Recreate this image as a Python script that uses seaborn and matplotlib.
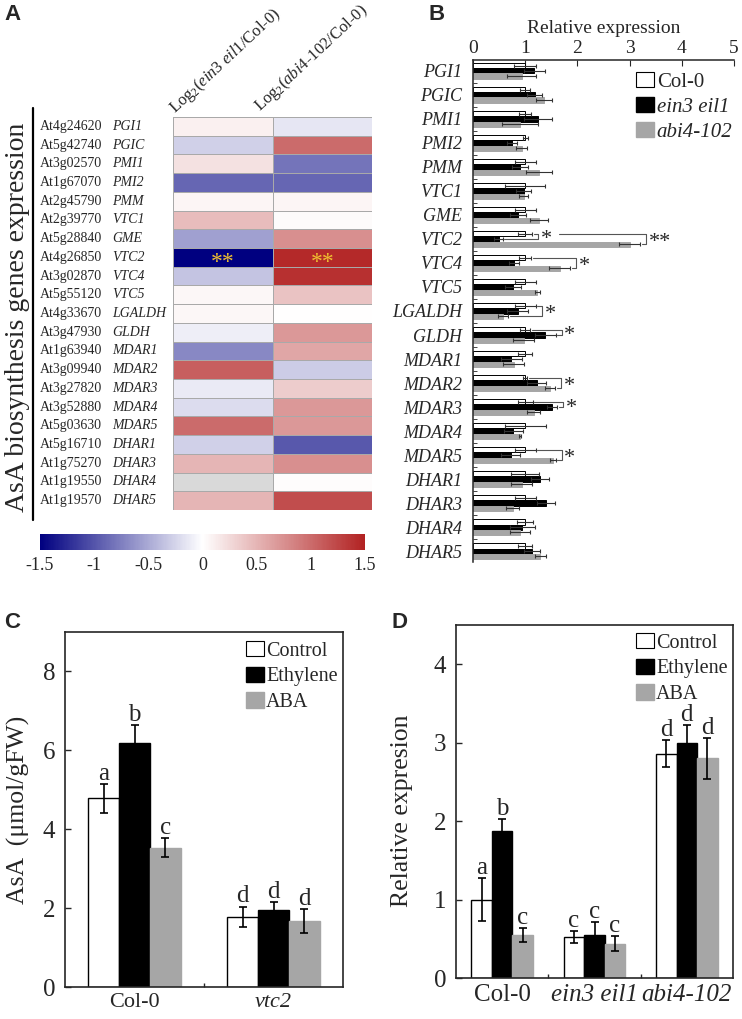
#!/usr/bin/env python3
"""
AsA biosynthesis gene expression figure (panels A-D).

A: log2 heatmap of mutant/Col-0 expression
B: relative expression of the same genes
C: AsA content after ethylene / ABA
D: VTC2 relative expression after ethylene / ABA
"""

import numpy as np
import pandas as pd
import matplotlib
matplotlib.use('Agg')
import matplotlib.pyplot as plt
from matplotlib.colors import LinearSegmentedColormap
from matplotlib.patches import Patch
import seaborn as sns

sns.set_style('ticks')
plt.rcParams['font.family'] = 'serif'
plt.rcParams['font.serif'] = ['Liberation Serif', 'DejaVu Serif']
plt.rcParams['mathtext.fontset'] = 'custom'
plt.rcParams['mathtext.rm'] = 'Liberation Serif'
plt.rcParams['mathtext.it'] = 'Liberation Serif:italic'

GRAY = '#a6a6a6'

# ---- Panel A data ----
gene_ids = ['At4g24620', 'At5g42740', 'At3g02570', 'At1g67070', 'At2g45790', 'At2g39770',
            'At5g28840', 'At4g26850', 'At3g02870', 'At5g55120', 'At4g33670', 'At3g47930',
            'At1g63940', 'At3g09940', 'At3g27820', 'At3g52880', 'At5g03630', 'At5g16710',
            'At1g75270', 'At1g19550', 'At1g19570']
gene_names = ['PGI1', 'PGIC', 'PMI1', 'PMI2', 'PMM', 'VTC1', 'GME', 'VTC2', 'VTC4', 'VTC5',
              'LGALDH', 'GLDH', 'MDAR1', 'MDAR2', 'MDAR3', 'MDAR4', 'MDAR5', 'DHAR1', 'DHAR3',
              'DHAR4', 'DHAR5']
log2_ein3 = [0.1, -0.28, 0.2, -0.9, 0.07, 0.45, -0.56, -1.5, -0.35, 0.05, 0.05, -0.1,
             -0.7, 1.08, -0.12, -0.2, 1.0, -0.28, 0.5, np.nan, 0.5]
log2_abi4 = [-0.15, 1.0, -0.82, -0.9, 0.07, 0.03, 0.75, 1.45, 1.4, 0.4, 0.0, 0.7,
             0.6, -0.3, 0.35, 0.7, 0.7, -0.98, 0.75, 0.02, 1.2]
heat_columns = [r'Log$_2$($\mathit{ein3\ eil1}$/Col-0)', r'Log$_2$($\mathit{abi4}$-$\mathit{102}$/Col-0)']
heat_stars = {'VTC2': ['**', '**']}
cbar_ticks = [-1.5, -1, -0.5, 0, 0.5, 1, 1.5]
cbar_labels = ['-1.5', '-1', '-0.5', '0', '0.5', '1', '1.5']

# ---- Panel B data ----
b_genotypes = ['Col-0', 'ein3 eil1', 'abi4-102']
b_col0 = [1.0, 1.0, 1.0, 1.0, 1.0, 1.0, 1.0, 1.0, 1.0, 1.0, 1.0,
          1.0, 1.0, 1.0, 1.0, 1.0, 1.0, 1.0, 1.0, 1.0, 1.0]
b_col0_err = [0.21, 0.1, 0.12, 0.05, 0.2, 0.38, 0.2, 0.13, 0.12, 0.2, 0.2,
              0.1, 0.13, 0.04, 0.14, 0.39, 0.2, 0.27, 0.2, 0.15, 0.13]
b_ein3 = [1.17, 1.18, 1.25, 0.75, 0.9, 0.97, 0.86, 0.49, 0.78, 0.76, 0.86,
          1.38, 0.73, 1.22, 1.51, 0.77, 0.72, 1.28, 1.4, 0.94, 1.13]
b_ein3_err = [0.2, 0.15, 0.27, 0.1, 0.15, 0.15, 0.15, 0.08, 0.1, 0.15, 0.2,
              0.2, 0.2, 0.18, 0.1, 0.18, 0.18, 0.17, 0.17, 0.24, 0.15]
b_abi4 = [0.93, 1.36, 0.9, 0.93, 1.27, 0.97, 1.27, 3.0, 1.66, 1.23, 0.57,
          0.97, 0.78, 1.47, 1.16, 0.9, 1.53, 0.93, 0.76, 0.9, 1.29]
b_abi4_err = [0.27, 0.15, 0.35, 0.1, 0.25, 0.08, 0.17, 0.2, 0.2, 0.05, 0.1,
              0.2, 0.2, 0.1, 0.12, 0.02, 0.05, 0.2, 0.13, 0.2, 0.1]
sig_genes = ['VTC2', 'VTC2', 'VTC4', 'LGALDH', 'GLDH', 'MDAR2', 'MDAR3', 'MDAR5']
sig_pairs = [('Col-0', 'ein3 eil1'), ('Col-0', 'abi4-102'), ('Col-0', 'abi4-102'),
             ('Col-0', 'abi4-102'), ('Col-0', 'ein3 eil1'), ('Col-0', 'abi4-102'),
             ('Col-0', 'ein3 eil1'), ('Col-0', 'abi4-102')]
sig_marks = ['*', '**', '*', '*', '*', '*', '*', '*']

# ---- Panel C data ----
treatments = ['Control', 'Ethylene', 'ABA']
c_groups = ['Col-0', 'vtc2']
c_control = [4.78, 1.78]
c_control_err = [0.36, 0.26]
c_ethylene = [6.18, 1.95]
c_ethylene_err = [0.46, 0.2]
c_aba = [3.53, 1.68]
c_aba_err = [0.24, 0.3]
c_letters = [['a', 'd'], ['b', 'd'], ['c', 'd']]

# ---- Panel D data ----
d_groups = ['Col-0', 'ein3 eil1', 'abi4-102']
d_control = [1.0, 0.52, 2.86]
d_control_err = [0.27, 0.075, 0.17]
d_ethylene = [1.88, 0.55, 2.99]
d_ethylene_err = [0.15, 0.16, 0.235]
d_aba = [0.55, 0.44, 2.8]
d_aba_err = [0.085, 0.1, 0.26]
d_letters = [['a', 'c', 'd'], ['b', 'c', 'd'], ['c', 'c', 'd']]


def panel_letter(fig, x, y, letter):
    fig.text(x, y, letter, fontfamily='Liberation Sans', fontweight='bold',
             fontsize=16, ha='center', va='center')


def draw_heatmap(fig):
    ax = fig.add_axes([0.2332, 0.4995, 0.2682, 0.3857])
    heat = pd.DataFrame({'ein3': log2_ein3, 'abi4': log2_abi4}, index=gene_names)
    cmap = LinearSegmentedColormap.from_list('asa', ['#000080', '#ffffff', '#b22222'])
    sns.heatmap(heat, cmap=cmap, vmin=-1.5, vmax=1.5, cbar=False, linewidths=0.6,
                linecolor='#a9a9a9', xticklabels=False, yticklabels=False, ax=ax)
    ax.set_facecolor('#d9d9d9')
    ax.set_xlabel('')
    ax.set_ylabel('')

    for i, (gid, name) in enumerate(zip(gene_ids, gene_names)):
        ax.text(-1.34, i + 0.5, gid, ha='left', va='center', fontsize=10)
        ax.text(-0.61, i + 0.5, name, ha='left', va='center', fontsize=10, style='italic')
        for j, star in enumerate(heat_stars.get(name, [])):
            ax.text(j + 0.5, i + 0.8, star, ha='center', va='center', fontsize=17,
                    color='#f0c030')
    ax.plot([-1.41, -1.41], [-0.5, len(gene_names) + 0.55], color='black', lw=1.6,
            clip_on=False)

    # rotated column headers
    for x0, y0, label in zip([0.02, 0.87], [-0.2, -0.3], heat_columns):
        ax.text(x0, y0, label, rotation=43, rotation_mode='anchor', ha='left',
                va='baseline', fontsize=12)

    cax = fig.add_axes([0.0539, 0.4603, 0.438, 0.0157])
    cbar = fig.colorbar(ax.collections[0], cax=cax, orientation='horizontal', ticks=cbar_ticks)
    cbar.outline.set_visible(False)
    cbar.ax.set_xticklabels(cbar_labels)
    cax.tick_params(length=0, labelsize=13, pad=5)

    fig.text(18 / 742, 1 - 317 / 1019, 'AsA biosynthesis genes expression', rotation=90,
             fontsize=20, ha='center', va='center')


def draw_expression_bars(fig):
    ax = fig.add_axes([0.6375, 0.4485, 0.3518, 0.4926])
    df = pd.DataFrame({
        'gene': gene_names * 3,
        'genotype': np.repeat(b_genotypes, len(gene_names)),
        'value': b_col0 + b_ein3 + b_abi4,
    })
    sns.barplot(data=df, x='value', y='gene', hue='genotype', order=gene_names,
                hue_order=b_genotypes, palette=['white', 'black', GRAY], orient='h',
                width=0.66, saturation=1, edgecolor='black', linewidth=0.7,
                errorbar=None, legend=False, ax=ax)
    bar_conts = list(ax.containers)
    for bar in bar_conts[2]:
        bar.set_edgecolor(GRAY)

    errs = [b_col0_err, b_ein3_err, b_abi4_err]
    ends = {}
    for k, cont in enumerate(bar_conts):
        for bar in cont:
            y = bar.get_y() + bar.get_height() / 2
            i = int(round(y))
            w = bar.get_width()
            ax.errorbar(w, y, xerr=errs[k][i], fmt='none', ecolor='#333333',
                        elinewidth=0.8, capsize=1.5, capthick=0.8)
            ends[(k, i)] = (w + errs[k][i], y)

    # significance brackets
    hue_idx = {g: k for k, g in enumerate(b_genotypes)}
    prev = {}
    for gene, (g1, g2), mark in zip(sig_genes, sig_pairs, sig_marks):
        i = gene_names.index(gene)
        k1, k2 = hue_idx[g1], hue_idx[g2]
        bx = max(ends[(k, i)][0] for k in range(k1, k2 + 1)) + 0.12
        (x1, y1), (x2, y2) = ends[(k1, i)], ends[(k2, i)]
        start1 = prev[i] + 0.4 if i in prev else x1 + 0.03
        ax.plot([start1, bx, bx, x2 + 0.03], [y1, y1, y2, y2], color='#555555', lw=0.8)
        ax.text(bx + 0.05, (y1 + y2) / 2 + 0.15, mark, ha='left', va='center', fontsize=16)
        prev[i] = bx

    ax.set_xlim(0, 5)
    ax.set_ylim(len(gene_names) - 0.55, -0.45)
    ax.xaxis.set_ticks_position('top')
    ax.xaxis.set_label_position('top')
    ax.set_xticks(range(6))
    ax.set_xlabel('Relative expression', fontsize=14, labelpad=5)
    ax.set_ylabel('')
    ax.tick_params(axis='x', direction='in', length=4, labelsize=14, pad=2)
    ax.set_yticks(range(len(gene_names)))
    ax.set_yticklabels(gene_names, style='italic', fontsize=13)
    ax.set_yticks(np.arange(0.5, len(gene_names) - 1, 1), minor=True)
    ax.tick_params(axis='y', which='major', length=0, pad=8)
    ax.tick_params(axis='y', which='minor', direction='in', length=3, left=True)
    for side in ['right', 'bottom']:
        ax.spines[side].set_visible(False)
    for side in ['top', 'left']:
        ax.spines[side].set_linewidth(1.1)

    handles = [Patch(facecolor='white', edgecolor='black', lw=0.8),
               Patch(facecolor='black', edgecolor='black'),
               Patch(facecolor=GRAY, edgecolor=GRAY)]
    leg = fig.legend(handles, b_genotypes, loc='upper left',
                     bbox_to_anchor=(636 / 742, 1 - 72 / 1019), frameon=False, fontsize=15,
                     handlelength=0.85, handleheight=0.75, handletextpad=0.15,
                     labelspacing=0.25, borderpad=0, borderaxespad=0)
    for t in leg.get_texts()[1:]:
        t.set_fontstyle('italic')


def draw_treatment_bars(fig, rect, groups, values, errs, letters, ylim, yticks, ylabel,
                        label_xy, xfont, legend_anchor):
    ax = fig.add_axes(rect)
    df = pd.DataFrame({
        'group': groups * 3,
        'treatment': np.repeat(treatments, len(groups)),
        'value': values[0] + values[1] + values[2],
    })
    sns.barplot(data=df, x='group', y='value', hue='treatment', order=groups,
                hue_order=treatments, palette=['white', 'black', GRAY], width=0.667,
                saturation=1, edgecolor='black', linewidth=1.0, errorbar=None,
                legend=False, ax=ax)
    bar_conts = list(ax.containers)
    for bar in bar_conts[2]:
        bar.set_edgecolor(GRAY)

    for k, cont in enumerate(bar_conts):
        for bar in cont:
            x = bar.get_x() + bar.get_width() / 2
            j = int(round(x))
            h = bar.get_height()
            ax.errorbar(x, h, yerr=errs[k][j], fmt='none', ecolor='black',
                        elinewidth=1.2, capsize=3, capthick=1.2)
            ax.annotate(letters[k][j], (x, h + errs[k][j]), xytext=(0, 3),
                        textcoords='offset points', ha='center', va='baseline', fontsize=18)

    ax.set_xlim(-0.5, len(groups) - 0.5)
    ax.set_ylim(*ylim)
    ax.set_yticks(yticks)
    ax.tick_params(axis='y', direction='in', length=4, width=1, labelsize=18, pad=7)
    ax.set_xticks(np.arange(0.5, len(groups) - 1, 1), minor=True)
    ax.tick_params(axis='x', which='minor', direction='in', length=3, width=1)
    ax.tick_params(axis='x', which='major', length=0, labelsize=xfont, pad=4)
    for lbl in ax.get_xticklabels():
        if lbl.get_text() != 'Col-0':
            lbl.set_fontstyle('italic')
    for side in ax.spines.values():
        side.set_visible(True)
        side.set_linewidth(1.2)
    ax.set_xlabel('')
    ax.set_ylabel(ylabel, fontsize=18.5)
    ax.yaxis.set_label_coords(*label_xy)

    handles = [Patch(facecolor='white', edgecolor='black', lw=0.8),
               Patch(facecolor='black', edgecolor='black'),
               Patch(facecolor=GRAY, edgecolor=GRAY)]
    fig.legend(handles, treatments, loc='upper left', bbox_to_anchor=legend_anchor,
               frameon=False, fontsize=14.5, handlelength=0.9, handleheight=0.8,
               handletextpad=0.1, labelspacing=0.3, borderpad=0, borderaxespad=0)


def main():
    fig = plt.figure(figsize=(7.42, 10.19), dpi=100)

    draw_heatmap(fig)
    draw_expression_bars(fig)
    draw_treatment_bars(fig, [0.0876, 0.0314, 0.3747, 0.3484], c_groups,
                        [c_control, c_ethylene, c_aba],
                        [c_control_err, c_ethylene_err, c_aba_err], c_letters,
                        (0, 9), [0, 2, 4, 6, 8], 'AsA  (\u03bcmol/gFW)', (-0.126, 0.5), 16,
                        (246 / 742, 1 - 641 / 1019))
    draw_treatment_bars(fig, [0.6146, 0.0402, 0.3733, 0.3464], d_groups,
                        [d_control, d_ethylene, d_aba],
                        [d_control_err, d_ethylene_err, d_aba_err], d_letters,
                        (0, 4.5), [0, 1, 2, 3, 4], 'Relative expresion', (-0.155, 0.473), 18,
                        (636 / 742, 1 - 633 / 1019))

    panel_letter(fig, 12.5 / 742, 1 - 15 / 1019, 'A')
    panel_letter(fig, 437 / 742, 1 - 15 / 1019, 'B')
    panel_letter(fig, 12 / 742, 1 - 622 / 1019, 'C')
    panel_letter(fig, 400 / 742, 1 - 622 / 1019, 'D')

    fig.savefig('out.png', dpi=100)
    plt.close(fig)


if __name__ == '__main__':
    main()
